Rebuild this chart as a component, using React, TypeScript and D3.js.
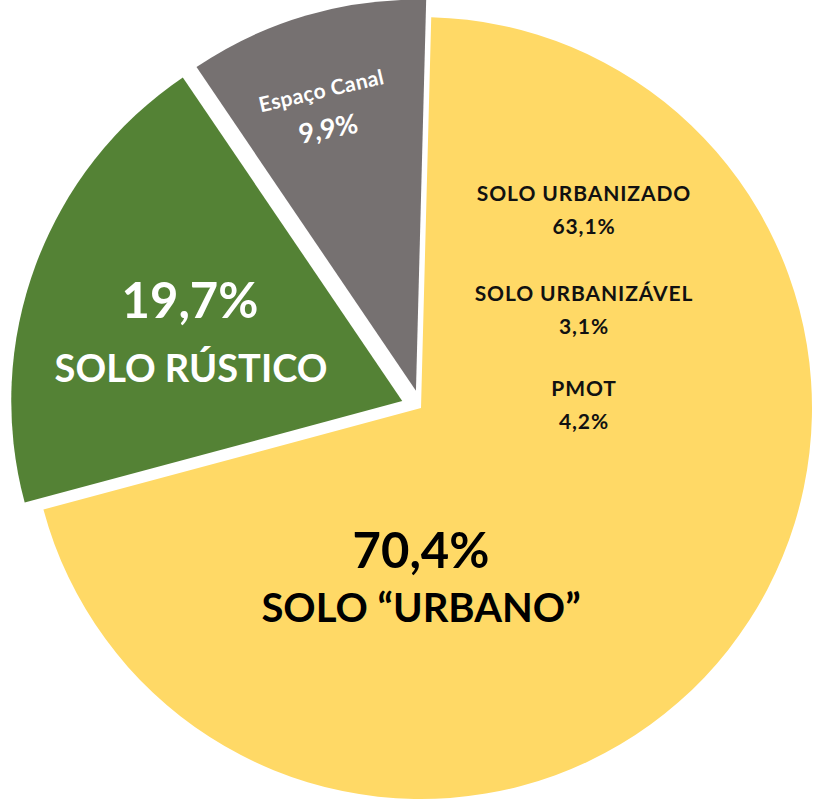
import React, { useEffect, useRef } from 'react';
import * as d3 from 'd3';

// main slices, clockwise from the top
const categories = ['SOLO "URBANO"', 'SOLO RÚSTICO', 'Espaço Canal'];
const shares = [70.4, 19.7, 9.9];
const colors = ['#FFD966', '#548235', '#767171'];
const explode = [0, 20, 18];

// breakdown written inside the urban slice
const urbanParts = ['SOLO URBANIZADO', 'SOLO URBANIZÁVEL', 'PMOT'];
const urbanShares = [63.1, 3.1, 4.2];

const fmt = (v: number) => v.toFixed(1).replace('.', ',') + '%';

const App = () => {
  const ref = useRef<SVGSVGElement>(null);

  useEffect(() => {
    const width = 815;
    const height = 802;
    const cx = 421;
    const cy = 408;
    const radius = 391;
    const rot = (1.5 * Math.PI) / 180;

    const svg = d3.select(ref.current);
    svg.selectAll('*').remove();

    const g = svg.append('g').attr('transform', `translate(${cx},${cy})`);

    const pie = d3.pie<number>().sort(null).startAngle(rot).endAngle(rot + 2 * Math.PI);
    const arcs = pie(shares);
    const arc = d3.arc<d3.PieArcDatum<number>>().innerRadius(0).outerRadius(radius);

    g.selectAll('path.slice')
      .data(arcs)
      .enter()
      .append('path')
      .attr('class', 'slice')
      .attr('transform', (d, i) => {
        const mid = (d.startAngle + d.endAngle) / 2;
        return `translate(${Math.sin(mid) * explode[i]},${-Math.cos(mid) * explode[i]})`;
      })
      .attr('d', arc)
      .attr('fill', (d, i) => colors[i]);

    const font = 'Lato, "Open Sans", sans-serif';

    const label = (txt: string, transform: string, size: number, fill: string, spacing = 0) =>
      g.append('text')
        .attr('transform', transform)
        .attr('text-anchor', 'middle')
        .attr('font-family', font)
        .attr('font-weight', 700)
        .attr('font-size', size)
        .attr('letter-spacing', spacing)
        .attr('fill', fill)
        .text(txt);

    // Espaço Canal label
    label(categories[2], 'translate(-98,-310) rotate(-13)', 21, '#fff', 0.4);
    label(fmt(shares[2]), 'translate(-91,-270) rotate(-11)', 27, '#fff');

    // rustic slice
    label(fmt(shares[1]), 'translate(-231,-90)', 49, '#fff');
    label(categories[1], 'translate(-230,-26)', 38, '#fff');

    // urban slice
    label(fmt(shares[0]), 'translate(0,160)', 49, '#000');
    label('SOLO \u201CURBANO\u201D', 'translate(0,214)', 40, '#000');

    const partY = [-207, -107, -12];
    urbanParts.forEach((name, i) => {
      label(name, `translate(163,${partY[i]})`, 21, '#111', 0.9);
      label(fmt(urbanShares[i]), `translate(163,${partY[i] + 33})`, 21, '#111', 0.9);
    });

    svg.attr('width', width).attr('height', height);
  }, []);

  return (
    <svg
      ref={ref}
      width={815}
      height={802}
      style={{ position: 'absolute', left: 0, top: 0, background: '#fff' }}
    />
  );
};

export default App;
